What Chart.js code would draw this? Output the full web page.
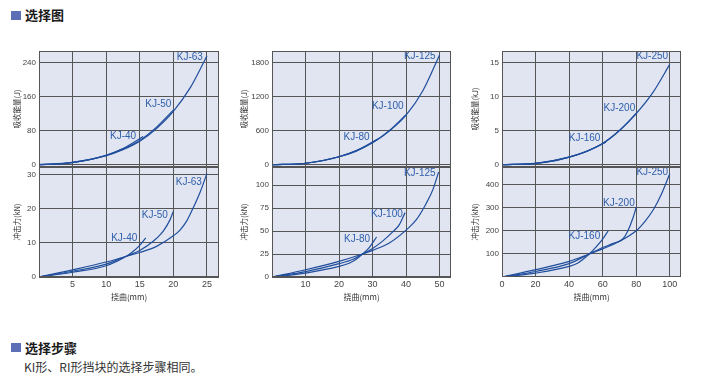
<!DOCTYPE html>
<html><head><meta charset="utf-8">
<script src="https://cdn.jsdelivr.net/npm/chart.js@4.4.1/dist/chart.umd.min.js"></script>
<style>
body{margin:0;background:#fff;width:705px;height:384px;overflow:hidden;position:relative;font-family:"Noto Sans CJK SC",sans-serif;}
canvas{position:absolute;}
.sq{position:absolute;width:10px;height:9px;background:#5b6eb6;}
.h{position:absolute;font-weight:bold;font-size:13px;color:#1a1a1a;line-height:13px;white-space:nowrap;}
.p{position:absolute;font-size:12px;color:#333;line-height:12px;white-space:nowrap;}
</style></head><body>
<div class="sq" style="left:11px;top:11px"></div>
<div class="h" style="left:25px;top:8px">选择图</div>
<div class="sq" style="left:11px;top:343px"></div>
<div class="h" style="left:25px;top:341px">选择步骤</div>
<div class="p" style="left:24px;top:361px">KI形、RI形挡块的选择步骤相同。</div>
<script>
// ---------------- DATA ----------------
// Left column: KJ-40 / KJ-50 / KJ-63
const defl40E = [0, 2.5, 5, 7.5, 10, 12.5, 15.5];
const energy40 = [0, 1.5, 5.5, 12, 22, 38, 66];
const defl50E = [0, 5, 10, 12.5, 15, 17.5, 20];
const energy50 = [0, 5.5, 22, 37, 57, 88, 128];
const defl63E = [0, 5, 10, 12.5, 15, 17.5, 20, 22.5, 25];
const energy63 = [0, 5, 21, 35, 55, 85, 125, 180, 255];

const defl40F = [0, 5, 10, 13, 14, 15, 15.9];
const force40 = [0, 1.4, 3.3, 6.1, 7.5, 9.3, 11.5];
const defl50F = [0, 5, 10, 13, 15, 17, 18.5, 19.5, 20];
const force50 = [0, 1.7, 3.8, 6.1, 7.8, 10.5, 13.5, 16.8, 19.3];
const defl63F = [0, 5, 10, 13, 15, 17.5, 20, 21, 22, 23, 24, 25];
const force63 = [0, 2.1, 4.4, 6.1, 7.2, 9, 12.1, 13.8, 16.5, 20.5, 25, 30.4];

// Middle column: KJ-80 / KJ-100 / KJ-125
const defl80E = [0, 10, 20, 25, 31.5];
const energy80 = [0, 25, 140, 240, 450];
const defl100E = [0, 10, 20, 30, 35, 40];
const energy100 = [0, 25, 140, 390, 600, 880];
const defl125E = [0, 10, 20, 25, 30, 35, 40, 45, 50];
const energy125 = [0, 25, 140, 235, 385, 590, 870, 1300, 1930];

const defl80F = [0, 10, 20, 23, 25, 27, 29, 31.2];
const force80 = [0, 4.3, 11.5, 15, 19, 25, 32, 43.5];
const defl100F = [0, 10, 20, 24, 27, 30, 33, 36, 38, 39.7];
const force100 = [0, 5.8, 14.5, 19, 25, 31, 39, 49, 57, 70];
const defl125F = [0, 10, 20, 27, 30, 35, 40, 43, 46, 48, 49.7];
const force125 = [0, 7.9, 17, 25, 29, 37, 51, 62, 80, 95, 114];

// Right column: KJ-160 / KJ-200 / KJ-250
const defl160E = [0, 20, 40, 50, 62];
const energy160 = [0, 0.2, 1.1, 1.9, 3.3];
const defl200E = [0, 20, 40, 60, 70, 80];
const energy200 = [0, 0.2, 1.1, 3.1, 5, 7.5];
const defl250E = [0, 20, 30, 40, 50, 60, 70, 80, 90, 100];
const energy250 = [0, 0.2, 0.5, 1.1, 1.9, 3.1, 5, 7.5, 10.6, 14.7];

const defl160F = [0, 20, 40, 45, 52, 56, 60, 63.3];
const force160 = [0, 17, 46, 60, 100, 130, 165, 201];
const defl200F = [0, 20, 40, 52, 60, 66, 72, 75, 78, 80];
const force200 = [0, 24, 58, 100, 128, 145, 165, 200, 255, 303];
const defl250F = [0, 20, 40, 52, 60, 70, 80, 85, 90, 95, 100];
const force250 = [0, 31.7, 68, 100, 122, 155, 201, 240, 290, 360, 449];

// Tick labels
const xTicksL = [5, 10, 15, 20, 25];
const xTicksM = [10, 20, 30, 40, 50];
const xTicksR = [0, 20, 40, 60, 80, 100];
const yTicksEnergyL = [0, 80, 160, 240];
const yTicksEnergyM = [0, 600, 1200, 1800];
const yTicksEnergyR = [0, 5, 10, 15];
const yTicksForceL = [0, 10, 20, 30];
const yTicksForceM = [0, 25, 50, 75, 100];
const yTicksForceR = [100, 200, 300, 400];

const titleEnergyJ = '吸收能量(J)';
const titleEnergyKJ = '吸收能量(kJ)';
const titleForce = '冲击力(kN)';
const titleDefl = '挠曲(mm)';

// ---------------- STYLE / LAYOUT ----------------
const LINE = '#1f4e9c', LABEL = '#2f60aa', GRID = '#555', BG = '#e1e4f1', TICK = '#444';
const LAT = '"Liberation Sans", Arial, sans-serif';
const CJK = '"Noto Sans CJK SC", sans-serif';
Chart.defaults.font.family = LAT;
const COLS = [{left: 39, width: 180, yw: 26}, {left: 272, width: 179, yw: 32}, {left: 502, width: 179, yw: 31}];
const ROWS = {top: {top: 51, height: 116, xh: 0}, bot: {top: 167, height: 110, xh: 25}};
const PAD = {left: 4, top: 10, right: 8, bottom: 10};

const framePlugin = {
  id: 'frame',
  beforeDraw(chart) {
    const a = chart.chartArea, c = chart.ctx;
    c.save(); c.fillStyle = BG; c.fillRect(a.left, a.top, a.right - a.left, a.bottom - a.top); c.restore();
  },
  afterDraw(chart) {
    const a = chart.chartArea, c = chart.ctx;
    c.save(); c.strokeStyle = GRID; c.lineWidth = 1;
    c.strokeRect(Math.round(a.left) + 0.5, Math.round(a.top) + 0.5, Math.round(a.right - a.left) - 1, Math.round(a.bottom - a.top) - 1);
    c.restore();
  }
};
const labelPlugin = {
  id: 'endLabels',
  afterDatasetsDraw(chart) {
    const c = chart.ctx;
    c.save(); c.fillStyle = LABEL; c.font = '10px ' + LAT; c.textAlign = 'right'; c.textBaseline = 'middle';
    chart.data.datasets.forEach((ds, i) => {
      const pts = chart.getDatasetMeta(i).data; const p = pts[pts.length - 1];
      c.fillText(ds.label, p.x + ds.labelOff[0], p.y + ds.labelOff[1]);
    });
    c.restore();
  }
};

function panel(p) {
  const col = COLS[p.col], row = ROWS[p.row];
  const cv = document.createElement('canvas');
  cv.width = PAD.left + col.yw + col.width + PAD.right;
  cv.height = PAD.top + row.height + row.xh + PAD.bottom;
  cv.style.left = (col.left - col.yw - PAD.left) + 'px';
  cv.style.top = (row.top - PAD.top) + 'px';
  cv.style.width = cv.width + 'px'; cv.style.height = cv.height + 'px';
  document.body.appendChild(cv);
  new Chart(cv, {
    type: 'scatter',
    data: {datasets: p.series.map(s => ({
      label: s.name, data: s.x.map((v, i) => ({x: v, y: s.y[i]})), showLine: true,
      borderColor: LINE, borderWidth: 1.2, pointRadius: 0, fill: false,
      cubicInterpolationMode: 'monotone', labelOff: s.off}))},
    options: {
      responsive: false, animation: false, devicePixelRatio: 1,
      layout: {padding: PAD},
      plugins: {legend: {display: false}, tooltip: {enabled: false}},
      scales: {
        x: {type: 'linear', min: p.xMin, max: p.xMax,
          afterBuildTicks: a => { a.ticks = p.xTicks.map(v => ({value: v})); },
          afterFit: a => { a.height = row.xh; },
          grid: {color: GRID, drawTicks: false, lineWidth: 1}, border: {display: false},
          ticks: {display: p.row === 'bot', padding: 2, color: TICK, font: {size: 9}, callback: v => String(v)},
          title: {display: p.row === 'bot', text: titleDefl, padding: 0, color: '#333', font: {size: 8, family: CJK}}},
        y: {type: 'linear', min: p.yMin, max: p.yMax,
          afterBuildTicks: a => { a.ticks = p.yTicks.map(v => ({value: v})); },
          afterFit: a => { a.width = col.yw; },
          grid: {color: GRID, drawTicks: false, lineWidth: 1}, border: {display: false},
          ticks: {padding: 3, color: TICK, font: {size: 8}, callback: v => String(v)},
          title: {display: true, text: p.yTitle, padding: 0, color: '#333', font: {size: 7.5, family: CJK}}}
      }
    },
    plugins: [framePlugin, labelPlugin]
  });
}

panel({col: 0, row: 'top', xMin: 0, xMax: 26.8, xTicks: xTicksL, yMin: -5.4, yMax: 266.6, yTicks: yTicksEnergyL, yTitle: titleEnergyJ,
  series: [{name: 'KJ-40', x: defl40E, y: energy40, off: [-7, 0]}, {name: 'KJ-50', x: defl50E, y: energy50, off: [-2, -6]}, {name: 'KJ-63', x: defl63E, y: energy63, off: [-4, 1]}]});
panel({col: 0, row: 'bot', xMin: 0, xMax: 26.8, xTicks: xTicksL, yMin: 0, yMax: 32.35, yTicks: yTicksForceL, yTitle: titleForce,
  series: [{name: 'KJ-40', x: defl40F, y: force40, off: [-8.5, 0.5]}, {name: 'KJ-50', x: defl50F, y: force50, off: [-5.4, 4]}, {name: 'KJ-63', x: defl63F, y: force63, off: [-5, 9]}]});
panel({col: 1, row: 'top', xMin: 0, xMax: 53.4, xTicks: xTicksM, yMin: -40.6, yMax: 1999, yTicks: yTicksEnergyM, yTitle: titleEnergyJ,
  series: [{name: 'KJ-80', x: defl80E, y: energy80, off: [-8, -2]}, {name: 'KJ-100', x: defl100E, y: energy100, off: [-2.5, -8]}, {name: 'KJ-125', x: defl125E, y: energy125, off: [-4, 1.7]}]});
panel({col: 1, row: 'bot', xMin: 0, xMax: 53.4, xTicks: xTicksM, yMin: 0, yMax: 119.6, yTicks: yTicksForceM, yTitle: titleForce,
  series: [{name: 'KJ-80', x: defl80F, y: force80, off: [-6.5, 2.7]}, {name: 'KJ-100', x: defl100F, y: force100, off: [-2.3, 1.3]}, {name: 'KJ-125', x: defl125F, y: force125, off: [-3, 1]}]});
panel({col: 2, row: 'top', xMin: 0, xMax: 106.7, xTicks: xTicksR, yMin: -0.338, yMax: 16.66, yTicks: yTicksEnergyR, yTitle: titleEnergyKJ,
  series: [{name: 'KJ-160', x: defl160E, y: energy160, off: [-5.6, -3.5]}, {name: 'KJ-200', x: defl200E, y: energy200, off: [-1, -5]}, {name: 'KJ-250', x: defl250E, y: energy250, off: [-1.7, -8]}]});
panel({col: 2, row: 'bot', xMin: 0, xMax: 106.7, xTicks: xTicksR, yMin: 0, yMax: 478, yTicks: yTicksForceR, yTitle: titleForce,
  series: [{name: 'KJ-160', x: defl160F, y: force160, off: [-8, 5.7]}, {name: 'KJ-200', x: defl200F, y: force200, off: [-1.5, -4.3]}, {name: 'KJ-250', x: defl250F, y: force250, off: [-1.7, -1.3]}]});
</script>
</body></html>
